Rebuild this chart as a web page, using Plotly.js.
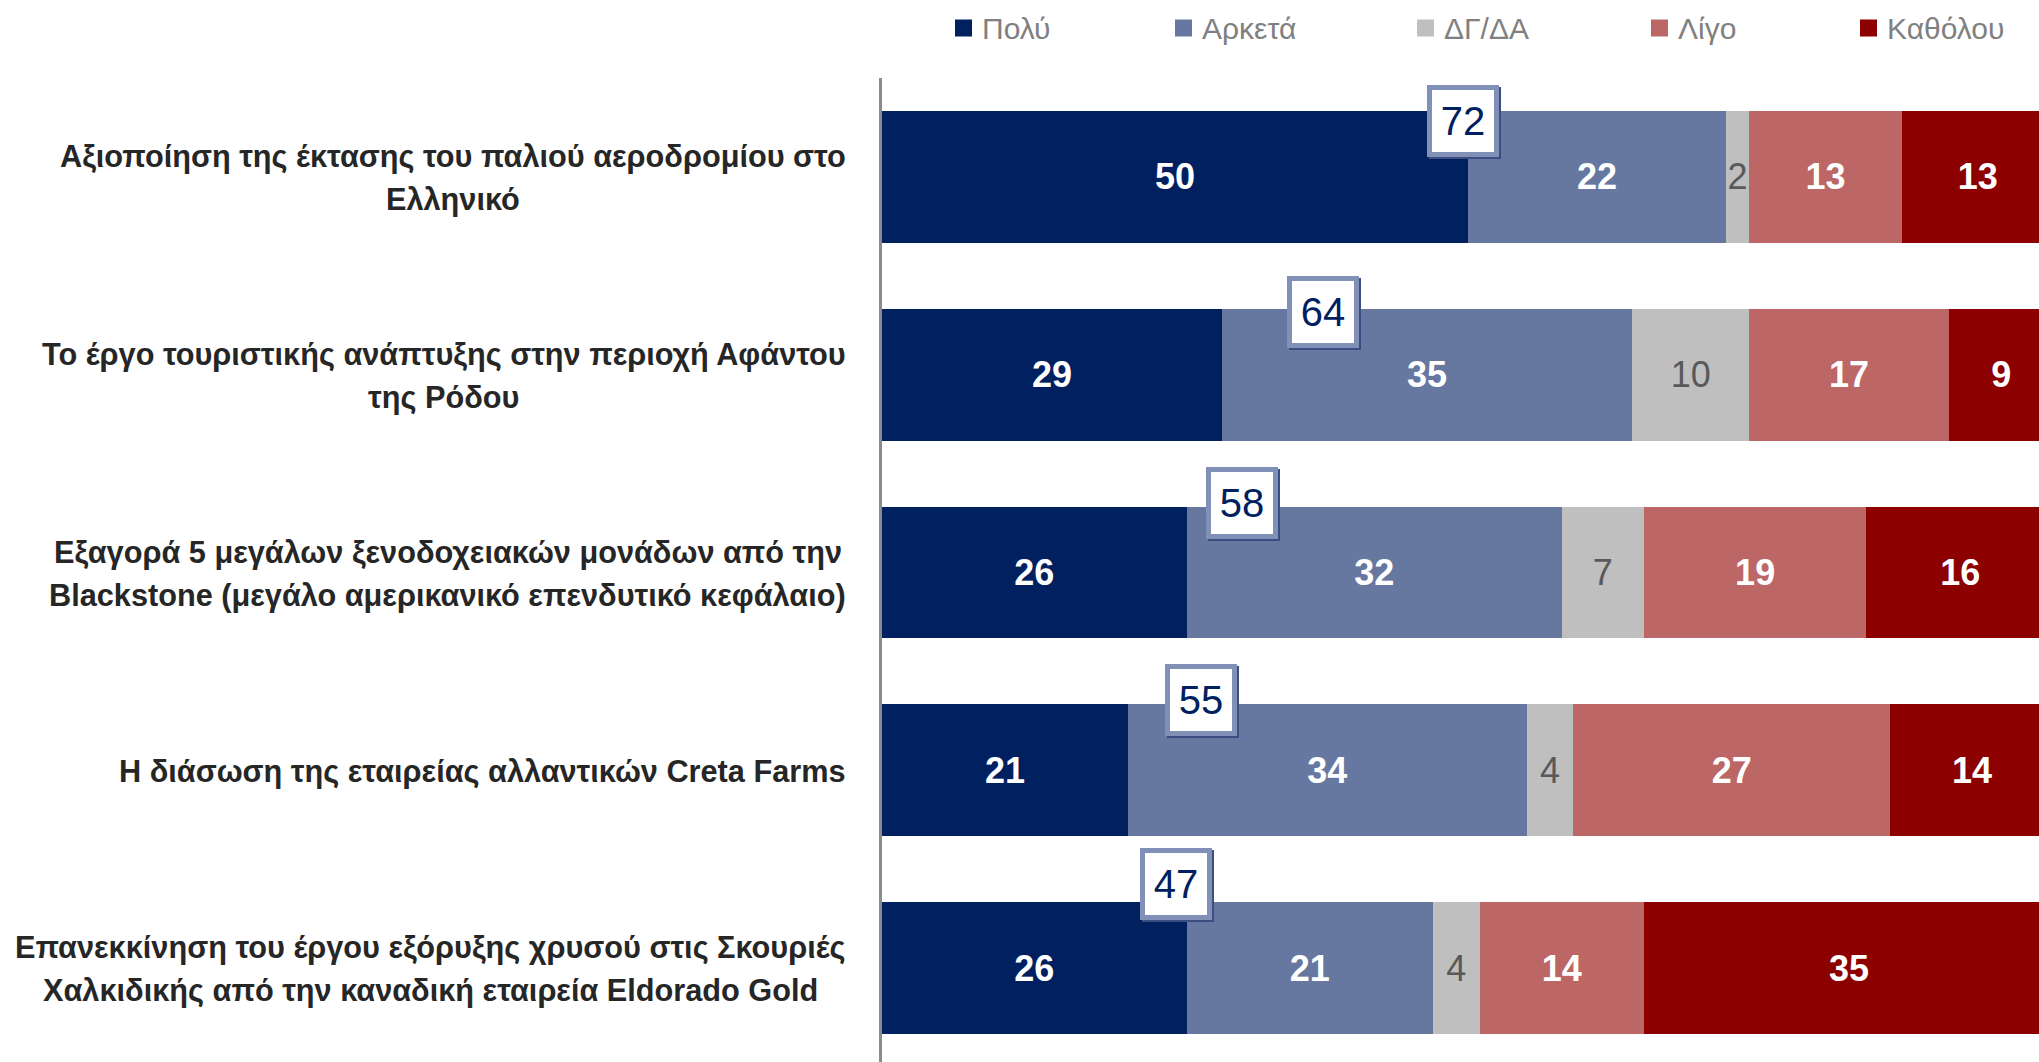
<!DOCTYPE html>
<html><head><meta charset="utf-8">
<script src="https://cdn.plot.ly/plotly-3.0.1.min.js"></script>
<style>html,body{margin:0;padding:0;background:#fff;overflow:hidden}</style>
</head><body><div id="chart" style="width:2039px;height:1062px"></div>
<script>
// ---------------- DATA ----------------
const categoryLines = [
  ["Αξιοποίηση της έκτασης του παλιού αεροδρομίου στο", "Ελληνικό"],
  ["Το έργο τουριστικής ανάπτυξης στην περιοχή Αφάντου", "της Ρόδου"],
  ["Εξαγορά 5 μεγάλων ξενοδοχειακών μονάδων από την", "Blackstone (μεγάλο αμερικανικό επενδυτικό κεφάλαιο)"],
  ["Η διάσωση της εταιρείας αλλαντικών Creta Farms"],
  ["Επανεκκίνηση του έργου εξόρυξης χρυσού στις Σκουριές", "Χαλκιδικής από την καναδική εταιρεία Eldorado Gold"]
];
const seriesNames = ["Πολύ", "Αρκετά", "ΔΓ/ΔΑ", "Λίγο", "Καθόλου"];
const poly     = [50, 29, 26, 21, 26];
const arketa   = [22, 35, 32, 34, 21];
const dgda     = [2, 10, 7, 4, 4];
const ligo     = [13, 17, 19, 27, 14];
const katholou = [13, 9, 16, 14, 35];
const totals   = [72, 64, 58, 55, 47];

// ---------------- STYLE / LAYOUT ----------------
const W = 2039, H = 1062;
const colors = ["#002060", "#6678A0", "#BFBFBF", "#BC6666", "#8C0000"];
const textColors = ["#FFFFFF", "#FFFFFF", "#595959", "#FFFFFF", "#FFFFFF"];
const textBold = [true, true, false, true, true];
const FONT = "Liberation Sans";
const plotLeft = 882, plotTop = 78;
const pxPerUnit = 11.72;
const totalBoxX = [49.6, 37.6, 30.7, 27.2, 25.1];     // label-box placement (data units)
const totalBoxLift = [56, 63, 70, 70, 84];             // px above bar centre
const legendLeft = [955, 1175, 1417, 1651, 1860];       // px

const cats = categoryLines.map(l => l.join(" "));
const series = [poly, arketa, dgda, ligo, katholou];

const traces = series.map((vals, k) => ({
  type: "bar", orientation: "h",
  name: seriesNames[k],
  y: cats, x: vals,
  marker: { color: colors[k], line: { width: 0 } },
  text: vals.map(String),
  textposition: "inside", insidetextanchor: "middle",
  constraintext: "none",
  textfont: { family: FONT, size: 36, color: textColors[k], weight: textBold[k] ? "bold" : "normal" },
  hoverinfo: "skip", showlegend: false
}));

const annotations = [];
const shapes = [];

// total boxes (shadow + box)
totals.forEach((t, i) => {
  const base = { x: totalBoxX[i], y: cats[i], xref: "x", yref: "y", showarrow: false,
    width: 58, height: 58, borderpad: 2, borderwidth: 5, align: "center", valign: "middle" };
  annotations.push(Object.assign({}, base, { text: " ", xshift: 2, yshift: totalBoxLift[i] - 2,
    bgcolor: "#3A4E82", bordercolor: "#3A4E82" }));
  annotations.push(Object.assign({}, base, { text: String(t), yshift: totalBoxLift[i],
    bgcolor: "#FFFFFF", bordercolor: "#8190B6",
    font: { family: FONT, size: 40, color: "#002060" } }));
});

// category labels: centred lines, block right-aligned at x=846
const cv = document.createElement("canvas").getContext("2d");
cv.font = "bold 100px 'Liberation Sans'";
const refWidth = cv.measureText(categoryLines[4][0]).width;   // widest line in the reference is ~831px
const catFontSize = Math.min(34, Math.floor(831 / refWidth * 100 * 10) / 10);
cv.font = "bold " + catFontSize + "px 'Liberation Sans'";
const rightEdge = 846;
categoryLines.forEach((lines, i) => {
  const maxW = Math.max(...lines.map(s => cv.measureText(s).width));
  const cx = rightEdge - maxW / 2;
  const n = lines.length;
  lines.forEach((s, j) => {
    const off = (j - (n - 1) / 2) * 43;
    annotations.push({ x: cx / W, xref: "paper", y: cats[i], yref: "y", yshift: -off - 1,
      xanchor: "center", yanchor: "middle", showarrow: false, text: s,
      font: { family: FONT, size: catFontSize, color: "#262626", weight: "bold" } });
  });
});

// legend
seriesNames.forEach((nm, k) => {
  const l = legendLeft[k], cy = 28, s = 17;
  shapes.push({ type: "rect", xref: "paper", yref: "paper",
    x0: l / W, x1: (l + s) / W, y0: 1 - (cy + s / 2) / H, y1: 1 - (cy - s / 2) / H,
    fillcolor: colors[k], line: { width: 0 } });
  annotations.push({ x: (l + 25) / W, xref: "paper", y: 1 - cy / H, yref: "paper",
    xanchor: "left", yanchor: "middle", showarrow: false, text: nm,
    font: { family: FONT, size: 30, color: "#808080" } });
});

const yBottom = (H - plotTop) / 197.8 - 0.5;
const layout = {
  width: W, height: H,
  margin: { l: 0, r: 0, t: 0, b: 0, pad: 0 },
  paper_bgcolor: "#FFFFFF", plot_bgcolor: "#FFFFFF",
  barmode: "stack", bargap: 0.334,
  xaxis: { domain: [plotLeft / W, 1], range: [0, (W - plotLeft) / pxPerUnit],
    showgrid: false, zeroline: false, showticklabels: false, showline: false, fixedrange: true },
  yaxis: { domain: [0, 1 - plotTop / H], type: "category", range: [yBottom, -0.5],
    showgrid: false, zeroline: false, showticklabels: false,
    showline: true, linecolor: "#8C8C8C", linewidth: 3, ticks: "" },
  showlegend: false,
  annotations: annotations, shapes: shapes,
  font: { family: FONT }
};
Plotly.newPlot("chart", traces, layout, { staticPlot: true, displayModeBar: false });
</script></body></html>
